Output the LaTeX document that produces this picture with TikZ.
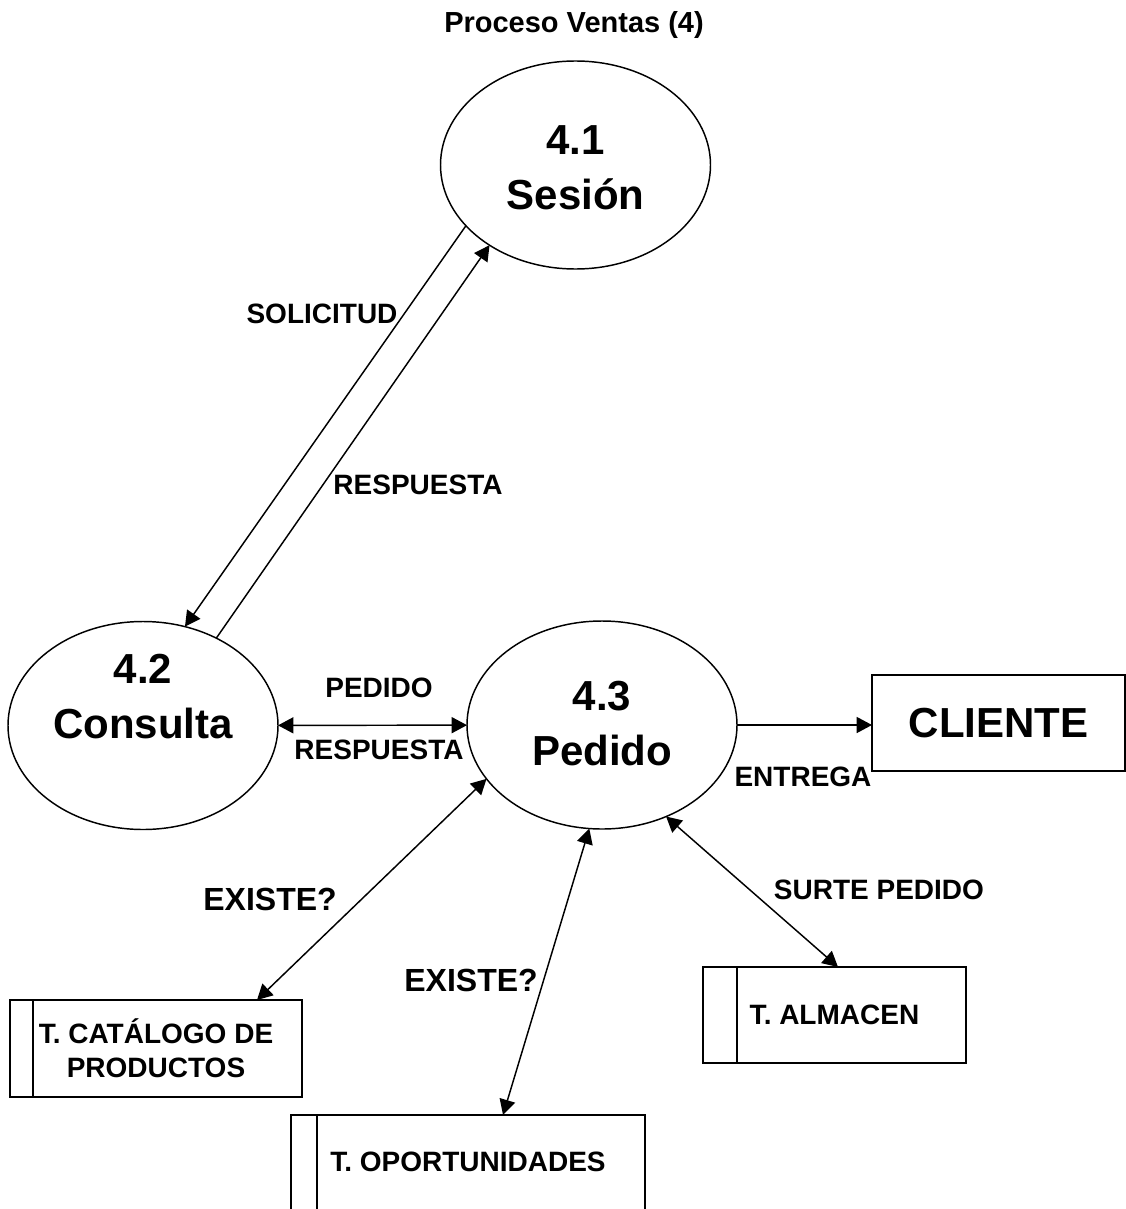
\documentclass[tikz,border=0pt]{standalone}
\usepackage{fontspec}
\setmainfont{Liberation Sans}
\usetikzlibrary{arrows.meta,shapes.geometric,calc}
\begin{document}
\begin{tikzpicture}[x=0.75pt,y=-0.75pt,
  every node/.style={font=\bfseries},
  proc/.style={ellipse,draw,line width=1.1pt,minimum width=202.5pt,minimum height=156pt,inner sep=0pt,outer sep=0pt},
  proctext/.style={align=center,inner sep=0pt,font=\bfseries\fontsize{31.5}{41.25}\selectfont},
  lbl/.style={inner sep=0pt,font=\bfseries\fontsize{21}{25}\selectfont},
  qlbl/.style={inner sep=0pt,font=\bfseries\fontsize{24}{28}\selectfont},
  ttl/.style={inner sep=0pt,font=\bfseries\fontsize{21.75}{26}\selectfont},
  store/.style={rectangle,line width=1.1pt,inner sep=0pt,outer sep=0pt,align=center,font=\bfseries\fontsize{21}{25.5}\selectfont},
  ent/.style={rectangle,draw,line width=1.1pt,inner sep=0pt,outer sep=0pt,font=\bfseries\fontsize{31.5}{38}\selectfont},
  edge line/.style={line width=1.1pt},
  flow/.style={edge line,-{Triangle[length=11.5pt,width=12pt]}},
  bflow/.style={edge line,{Triangle[length=11.5pt,width=12pt]}-{Triangle[length=11.5pt,width=12pt]}},
]
\useasboundingbox (0,0) rectangle (1126,1209);
\clip (0,0) rectangle (1126,1209);

% title
\node[ttl] (title) at (574,25.5) {Proceso Ventas (4)};

% processes
\node[proc] (s41) at (575.5,165) {};
\node[proctext] (t41) at (575.5,167.5) {4.1\\Sesión};
\node[proc] (s42) at (143,725.5) {};
\node[proctext] (t42) at (143,696.5) {4.2\\Consulta};
\node[proc] (s43) at (602,725) {};
\node[proctext] (t43) at (602,724) {4.3\\Pedido};

% external entity
\node[ent,minimum width=189.75pt,minimum height=72pt] (cliente) at (998.5,723) {CLIENTE};

% data stores
\node[store,draw,minimum width=219pt,minimum height=72.75pt] (cat) at (156,1048.5) {T. CATÁLOGO DE\\PRODUCTOS};
\draw[edge line] ($(cat.north west)+(23,0)$) -- ($(cat.south west)+(23,0)$);

\node[store,draw,minimum width=197.25pt,minimum height=72pt] (alm) at (834.5,1015) {T. ALMACEN};
\draw[edge line] ($(alm.north west)+(34,0)$) -- ($(alm.south west)+(34,0)$);

\node[store,minimum width=265.5pt,minimum height=70.5pt] (opo) at (468,1162) {T. OPORTUNIDADES};
\draw[edge line] ($(opo.south west)+(0,10)$) -- (opo.north west) -- (opo.north east) -- ($(opo.south east)+(0,10)$);
\draw[edge line] ($(opo.north west)+(26,0)$) -- ($(opo.south west)+(26,10)$);

% flows
\draw[flow] (s41.209.3) -- (s42.67.3);
\draw[flow] (s42.50.7) -- (s41.223.1);
\draw[bflow] (s42) -- (s43);
\draw[flow] (s43.east) -- (s43.east -| cliente.west);
\draw[bflow] (s43.205.2) -- ($(cat.north west)+(247,0)$);
\draw[bflow] (s43.263.5) -- ($(opo.north west)+(212,0)$);
\draw[bflow] (s43.305.7) -- ($(alm.north west)+(135,0)$);

% labels
\node[lbl] (lsol) at (322,314) {SOLICITUD};
\node[lbl] (lres1) at (418,485) {RESPUESTA};
\node[lbl] (lped) at (379,688) {PEDIDO};
\node[lbl] (lres2) at (379,750) {RESPUESTA};
\node[lbl] (lent) at (803,777) {ENTREGA};
\node[lbl] (lsur) at (879,890) {SURTE PEDIDO};
\node[qlbl] (lex1) at (270,899) {EXISTE?};
\node[qlbl] (lex2) at (471,980) {EXISTE?};
\end{tikzpicture}
\end{document}
